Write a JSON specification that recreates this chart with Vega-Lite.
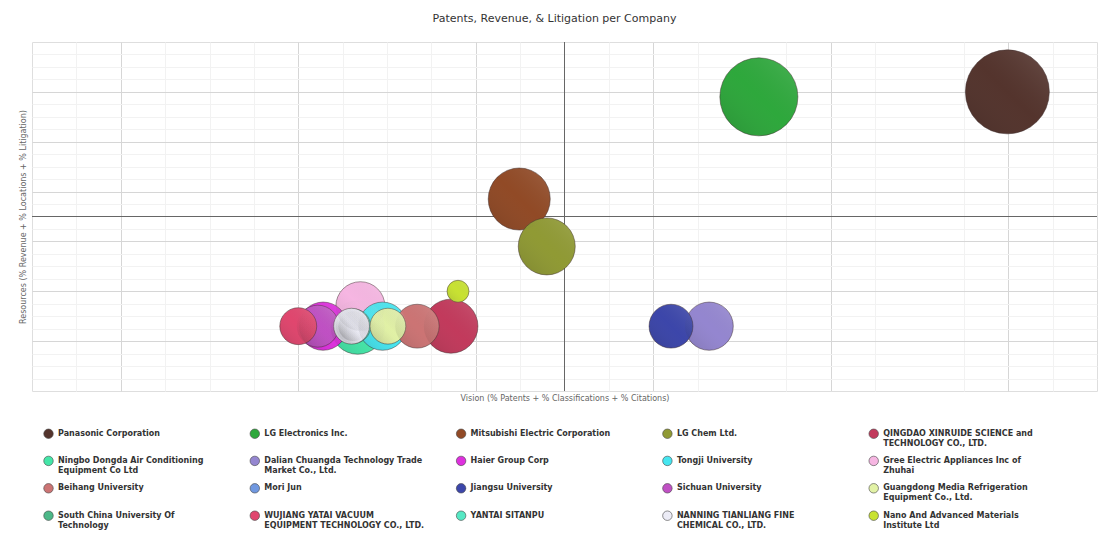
{
  "$schema": "https://vega.github.io/schema/vega-lite/v6.json",
  "autosize": {"type": "none"},
  "width": 1065,
  "height": 349,
  "padding": {"left": 32, "top": 42, "right": 12, "bottom": 168},
  "background": "white",
  "title": {"text": "Patents, Revenue, & Litigation per Company", "font": "DejaVu Sans", "fontSize": 11, "fontWeight": "normal", "color": "#333333", "anchor": "middle", "offset": 18, "dx": -10},
  "config": {
    "view": {"stroke": "#dedede"},
    "axis": {"labels": false, "ticks": false, "domain": false, "titleFont": "DejaVu Sans", "titleFontSize": 8, "titleFontWeight": "normal", "titleColor": "#666666"}
  },
  "datasets": {
    "companies": [
      {"Company": "Panasonic Corporation", "Vision": 10.99, "Resources": 6.0, "Size": 176},
      {"Company": "LG Electronics Inc.", "Vision": 8.19, "Resources": 5.9, "Size": 152},
      {"Company": "Mitsubishi Electric Corporation", "Vision": 5.49, "Resources": 3.85, "Size": 96},
      {"Company": "LG Chem Ltd.", "Vision": 5.8, "Resources": 2.9, "Size": 81},
      {"Company": "QINGDAO XINRUIDE SCIENCE and TECHNOLOGY CO., LTD.", "Vision": 4.72, "Resources": 1.3, "Size": 73},
      {"Company": "Ningbo Dongda Air Conditioning Equipment Co Ltd", "Vision": 3.67, "Resources": 1.28, "Size": 73},
      {"Company": "Gree Electric Appliances Inc of Zhuhai", "Vision": 3.7, "Resources": 1.7, "Size": 60},
      {"Company": "Dalian Chuangda Technology Trade Market Co., Ltd.", "Vision": 7.63, "Resources": 1.3, "Size": 58},
      {"Company": "Haier Group Corp", "Vision": 3.28, "Resources": 1.3, "Size": 58},
      {"Company": "Tongji University", "Vision": 3.95, "Resources": 1.3, "Size": 58},
      {"Company": "Beihang University", "Vision": 4.34, "Resources": 1.3, "Size": 48},
      {"Company": "Jiangsu University", "Vision": 7.2, "Resources": 1.3, "Size": 48},
      {"Company": "Sichuan University", "Vision": 3.22, "Resources": 1.3, "Size": 44},
      {"Company": "WUJIANG YATAI VACUUM EQUIPMENT TECHNOLOGY CO., LTD.", "Vision": 3.0, "Resources": 1.3, "Size": 34},
      {"Company": "YANTAI SITANPU", "Vision": 3.62, "Resources": 1.3, "Size": 30},
      {"Company": "Mori Jun", "Vision": 3.62, "Resources": 1.3, "Size": 22},
      {"Company": "South China University Of Technology", "Vision": 3.62, "Resources": 1.3, "Size": 22},
      {"Company": "NANNING TIANLIANG FINE CHEMICAL CO., LTD.", "Vision": 3.6, "Resources": 1.3, "Size": 32},
      {"Company": "Guangdong Media Refrigeration Equipment Co., Ltd.", "Vision": 4.01, "Resources": 1.3, "Size": 32},
      {"Company": "Nano And Advanced Materials Institute Ltd", "Vision": 4.8, "Resources": 2.0, "Size": 12}
    ]
  },
  "layer": [
    {
      "data": {"values": [{"v": 6}]},
      "mark": {"type": "rule", "color": "#666666", "strokeWidth": 1},
      "encoding": {
        "x": {"field": "v", "type": "quantitative", "scale": {"domain": [0, 12], "nice": false, "zero": false},
          "axis": {"orient": "top", "title": null, "grid": true, "gridColor": "#f2f2f2", "values": [0.5, 1.5, 2, 2.5, 3.5, 4, 4.5, 5.5, 6.5, 7, 7.5, 8.5, 9, 9.5, 10.5, 11.5]}}
      }
    },
    {
      "data": {"values": [{"v": 3.5}]},
      "mark": {"type": "rule", "color": "#666666", "strokeWidth": 1},
      "encoding": {
        "y": {"field": "v", "type": "quantitative", "scale": {"domain": [0, 7], "nice": false, "zero": false},
          "axis": {"orient": "right", "title": null, "grid": true, "gridColor": "#f2f2f2", "values": [0.25, 0.5, 0.75, 1.25, 1.5, 1.75, 2.25, 2.5, 2.75, 3.25, 3.75, 4.25, 4.5, 4.75, 5.25, 5.5, 5.75, 6.25, 6.5, 6.75]}}
      }
    },
    {
      "data": {"name": "companies"},
      "mark": {"type": "circle", "opacity": 1, "stroke": "#3a2a2a", "strokeWidth": 0.6, "strokeOpacity": 0.8},
      "encoding": {
        "x": {"field": "Vision", "type": "quantitative",
          "axis": {"orient": "bottom", "title": "Vision (% Patents + % Classifications + % Citations)", "titlePadding": 3, "grid": true, "gridColor": "#d6d6d6", "values": [1, 3, 5, 7, 9, 11]}},
        "y": {"field": "Resources", "type": "quantitative",
          "axis": {"orient": "left", "title": "Resources (% Revenue + % Locations + % Litigation)", "titlePadding": 5, "grid": true, "gridColor": "#d6d6d6", "values": [1, 2, 3, 4, 5, 6]}},
        "size": {"field": "Size", "type": "quantitative", "scale": {"type": "linear", "zero": true, "domain": [0, 176], "range": [0, 7056]}, "legend": null},
        "color": {"field": "Company", "type": "nominal",
          "scale": {
            "domain": ["Panasonic Corporation", "LG Electronics Inc.", "Mitsubishi Electric Corporation", "LG Chem Ltd.", "QINGDAO XINRUIDE SCIENCE and TECHNOLOGY CO., LTD.",
                       "Ningbo Dongda Air Conditioning Equipment Co Ltd", "Dalian Chuangda Technology Trade Market Co., Ltd.", "Haier Group Corp", "Tongji University", "Gree Electric Appliances Inc of Zhuhai",
                       "Beihang University", "Mori Jun", "Jiangsu University", "Sichuan University", "Guangdong Media Refrigeration Equipment Co., Ltd.",
                       "South China University Of Technology", "WUJIANG YATAI VACUUM EQUIPMENT TECHNOLOGY CO., LTD.", "YANTAI SITANPU", "NANNING TIANLIANG FINE CHEMICAL CO., LTD.", "Nano And Advanced Materials Institute Ltd"],
            "range": ["#54342d", "#2ea83c", "#914a26", "#909a34", "#c23a5c",
                      "#44e6a8", "#9486d0", "#de30de", "#46e6f0", "#f6b6e2",
                      "#cc7474", "#7098e0", "#3c46aa", "#c050c4", "#e2f2a6",
                      "#4cb888", "#e0466e", "#56e8c4", "#ececf6", "#c8e232"]
          },
          "legend": {
            "orient": "none", "legendX": 11, "legendY": 386, "direction": "horizontal", "columns": 5, "title": null,
            "symbolType": "circle", "symbolSize": 90, "symbolStrokeColor": "#444444", "symbolStrokeWidth": 0.6,
            "labelFont": "DejaVu Sans", "labelFontSize": 8, "labelFontWeight": "bold", "labelColor": "#333333", "labelLimit": 260,
            "gridAlign": "all", "columnPadding": 30.3, "rowPadding": 6.4, "labelBaseline": "middle", "padding": 0,
            "labelExpr": "datum.label == 'QINGDAO XINRUIDE SCIENCE and TECHNOLOGY CO., LTD.' ? ['QINGDAO XINRUIDE SCIENCE and', 'TECHNOLOGY CO., LTD.'] : datum.label == 'Ningbo Dongda Air Conditioning Equipment Co Ltd' ? ['Ningbo Dongda Air Conditioning', 'Equipment Co Ltd'] : datum.label == 'Dalian Chuangda Technology Trade Market Co., Ltd.' ? ['Dalian Chuangda Technology Trade', 'Market Co., Ltd.'] : datum.label == 'Gree Electric Appliances Inc of Zhuhai' ? ['Gree Electric Appliances Inc of', 'Zhuhai'] : datum.label == 'Guangdong Media Refrigeration Equipment Co., Ltd.' ? ['Guangdong Media Refrigeration', 'Equipment Co., Ltd.'] : datum.label == 'South China University Of Technology' ? ['South China University Of', 'Technology'] : datum.label == 'WUJIANG YATAI VACUUM EQUIPMENT TECHNOLOGY CO., LTD.' ? ['WUJIANG YATAI VACUUM', 'EQUIPMENT TECHNOLOGY CO., LTD.'] : datum.label == 'NANNING TIANLIANG FINE CHEMICAL CO., LTD.' ? ['NANNING TIANLIANG FINE', 'CHEMICAL CO., LTD.'] : datum.label == 'Nano And Advanced Materials Institute Ltd' ? ['Nano And Advanced Materials', 'Institute Ltd'] : [datum.label, '']"
          }
        }
      }
    },
    {
      "data": {"name": "companies"},
      "mark": {"type": "circle", "opacity": 1, "strokeWidth": 0,
        "fill": {"gradient": "linear", "x1": 0, "y1": 1, "x2": 1, "y2": 0, "stops": [{"offset": 0, "color": "rgba(0,0,0,0.14)"}, {"offset": 0.5, "color": "rgba(128,128,128,0)"}, {"offset": 1, "color": "rgba(255,255,255,0.14)"}]}},
      "encoding": {
        "x": {"field": "Vision", "type": "quantitative", "axis": null},
        "y": {"field": "Resources", "type": "quantitative", "axis": null},
        "size": {"field": "Size", "type": "quantitative", "legend": null}
      }
    }
  ],
  "resolve": {"axis": {"x": "independent", "y": "independent"}}
}
